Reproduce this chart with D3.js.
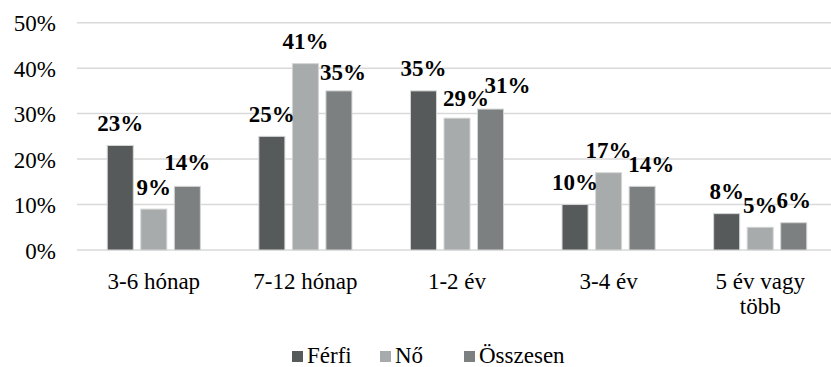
<!DOCTYPE html>
<html>
<head>
<meta charset="utf-8">
<script src="https://cdn.jsdelivr.net/npm/d3@7"></script>
<style>
  html, body { margin: 0; padding: 0; background: #fff; }
  svg { display: block; }
  svg text { font-family: "Liberation Serif", "Times New Roman", Tinos, "DejaVu Serif", "Noto Serif", serif !important; fill: #000; }
</style>
</head>
<body>
<svg id="chart" width="831" height="367" font-family="Liberation Serif, Times New Roman, DejaVu Serif, serif"></svg>
<script>
// Categories (duration) and series values in percent
const categories = ["3-6 hónap", "7-12 hónap", "1-2 év", "3-4 év", "5 év vagy több"];
const series = ["Férfi", "Nő", "Összesen"];
const ferfi    = [23, 25, 35, 10, 8];
const no       = [9, 41, 29, 17, 5];
const osszesen = [14, 35, 31, 14, 6];
const yTicks   = [0, 10, 20, 30, 40, 50];

// Category label lines (wrapped)
const categoryLines = [["3-6 hónap"], ["7-12 hónap"], ["1-2 év"], ["3-4 év"], ["5 év vagy", "több"]];

// Colours per series
const colors = { "Férfi": "#565a5a", "Nő": "#a7abab", "Összesen": "#7c8080" };

// Hand nudges for overlapping data labels: [dx, dy]
const labelNudge = {
  "3-6 hónap|Összesen": [0, -2],
  "7-12 hónap|Összesen": [4, 4],
  "1-2 év|Nő": [9, 2],
  "1-2 év|Összesen": [17, -2],
  "3-4 év|Összesen": [9, 0]
};

const fontSize = 23;

const valuesBySeries = { "Férfi": ferfi, "Nő": no, "Összesen": osszesen };
const rows = categories.map((c, i) => ({
  category: c,
  values: series.map(s => ({ series: s, value: valuesBySeries[s][i], category: c }))
}));

const svg = d3.select("#chart");

const x0 = d3.scaleBand().domain(categories).range([78, 836]).padding(0);
const x1 = d3.scaleBand().domain(series).range([29.25, x0.bandwidth() - 29.25]).paddingInner(0.224).paddingOuter(0);
const y = d3.scaleLinear().domain([0, 50]).range([250, 22.7]);

// Gridlines
svg.append("g")
  .selectAll("line")
  .data(yTicks)
  .join("line")
  .attr("x1", 77).attr("x2", 831)
  .attr("y1", d => y(d)).attr("y2", d => y(d))
  .attr("stroke", "#d9d9d9").attr("stroke-width", 1.5);

// Y axis labels
const yAxis = d3.axisLeft(y).tickValues(yTicks).tickFormat(d => d + "%").tickSize(0).tickPadding(0);
const yg = svg.append("g").attr("transform", "translate(56,0)").call(yAxis);
yg.select(".domain").remove();
yg.attr("font-family", null).attr("font-size", null);
yg.selectAll("text")
  .attr("font-size", fontSize)
  .attr("fill", "#000")
  .attr("dy", "0.35em");

// Bars
const groups = svg.append("g")
  .selectAll("g")
  .data(rows)
  .join("g")
  .attr("transform", d => `translate(${x0(d.category)},0)`);

groups.selectAll("rect")
  .data(d => d.values)
  .join("rect")
  .attr("x", d => x1(d.series))
  .attr("y", d => y(d.value))
  .attr("width", x1.bandwidth())
  .attr("height", d => y(0) - y(d.value))
  .attr("fill", d => colors[d.series])
  .attr("stroke", "#d4d6d6")
  .attr("stroke-width", 1);

// Data labels
groups.selectAll("text.val")
  .data(d => d.values)
  .join("text")
  .attr("class", "val")
  .attr("x", d => x1(d.series) + x1.bandwidth() / 2 + (labelNudge[d.category + "|" + d.series] || [0, 0])[0])
  .attr("y", d => y(d.value) - 14.5 + (labelNudge[d.category + "|" + d.series] || [0, 0])[1])
  .attr("text-anchor", "middle")
  .attr("font-size", fontSize)
  .attr("font-weight", "bold")
  .text(d => d.value + "%");

// Category labels
const xg = svg.append("g");
categories.forEach((c, i) => {
  const t = xg.append("text")
    .attr("x", x0(c) + x0.bandwidth() / 2)
    .attr("y", 289)
    .attr("text-anchor", "middle")
    .attr("font-size", fontSize);
  categoryLines[i].forEach((line, j) => {
    t.append("tspan")
      .attr("x", x0(c) + x0.bandwidth() / 2)
      .attr("dy", j === 0 ? 0 : 25)
      .text(line);
  });
});

// Legend
const legendItems = [
  { name: "Férfi", x: 292 },
  { name: "Nő", x: 380 },
  { name: "Összesen", x: 464 }
];
const legend = svg.append("g");
legendItems.forEach(item => {
  legend.append("rect")
    .attr("x", item.x).attr("y", 351)
    .attr("width", 11).attr("height", 11)
    .attr("fill", colors[item.name]);
  legend.append("text")
    .attr("x", item.x + 15).attr("y", 363)
    .attr("font-size", fontSize)
    .text(item.name);
});
</script>
</body>
</html>
